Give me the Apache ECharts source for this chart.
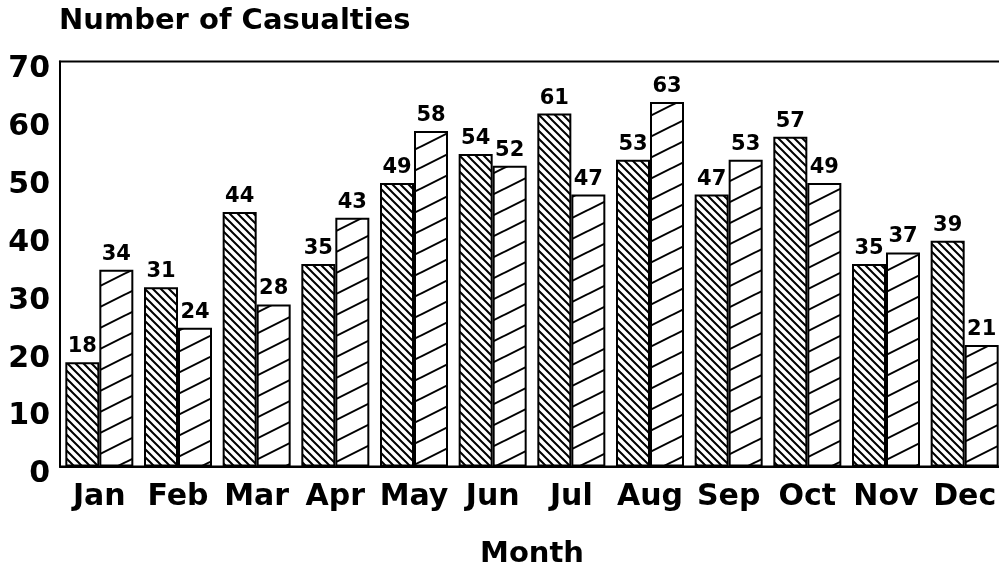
<!DOCTYPE html>
<html>
<head>
<meta charset="utf-8">
<script src="https://cdn.jsdelivr.net/npm/echarts@6/dist/echarts.min.js"></script>
<style>
  html, body { margin: 0; padding: 0; background: #fff; }
  #main { width: 999px; height: 572px; }
</style>
</head>
<body>
<div id="main"></div>
<script>
// data
var months = ['Jan', 'Feb', 'Mar', 'Apr', 'May', 'Jun', 'Jul', 'Aug', 'Sep', 'Oct', 'Nov', 'Dec'];
var seriesA = [18, 31, 44, 35, 49, 54, 61, 53, 47, 57, 35, 39];
var seriesB = [34, 24, 28, 43, 58, 52, 47, 63, 53, 49, 37, 21];
var yTicks = [0, 10, 20, 30, 40, 50, 60, 70];

// hatch fills
function hatchBack() {
  var s = 8;
  var c = document.createElement('canvas');
  c.width = s; c.height = s;
  var g = c.getContext('2d');
  g.fillStyle = '#fff'; g.fillRect(0, 0, s, s);
  g.strokeStyle = '#000'; g.lineWidth = 2;
  g.beginPath();
  g.moveTo(-s, 0); g.lineTo(s, 2 * s);
  g.moveTo(-1, -1); g.lineTo(s + 1, s + 1);
  g.moveTo(0, -s); g.lineTo(2 * s, s);
  g.stroke();
  return c;
}
function hatchFwd() {
  var w = 42, h = 21;
  var c = document.createElement('canvas');
  c.width = w; c.height = h;
  var g = c.getContext('2d');
  g.fillStyle = '#fff'; g.fillRect(0, 0, w, h);
  g.strokeStyle = '#000'; g.lineWidth = 2;
  g.beginPath();
  g.moveTo(-w, 2 * h); g.lineTo(2 * w, -h);
  g.moveTo(-w, h); g.lineTo(w, -h);
  g.moveTo(0, 2 * h); g.lineTo(2 * w, 0);
  g.stroke();
  return c;
}

var font = '"DejaVu Sans", "Liberation Sans", Arial, sans-serif';
var chart = echarts.init(document.getElementById('main'));

var labelStyle = {
  show: true,
  position: 'top',
  distance: 5,
  color: '#000',
  fontFamily: font,
  fontWeight: 'bold',
  fontSize: 21
};

var option = {
  animation: false,
  backgroundColor: '#fff',
  title: {
    text: 'Number of Casualties',
    left: 59,
    top: 7,
    padding: 0,
    textStyle: { fontFamily: font, fontWeight: 'bold', fontSize: 29, color: '#000' }
  },
  grid: {
    left: 60,
    top: 61.5,
    width: 944,
    bottom: 105.5,
    outerBoundsMode: 'none',
    show: true,
    borderColor: '#000',
    borderWidth: 2,
    backgroundColor: 'transparent'
  },
  xAxis: {
    type: 'category',
    data: months,
    name: 'Month',
    nameLocation: 'middle',
    nameGap: 73,
    nameTextStyle: { fontFamily: font, fontWeight: 'bold', fontSize: 29, color: '#000', verticalAlign: 'top' },
    axisLine: { lineStyle: { color: '#000', width: 2 } },
    axisTick: { show: false },
    axisLabel: { interval: 0, fontFamily: font, fontWeight: 'bold', fontSize: 30, color: '#000', margin: 16 }
  },
  yAxis: {
    type: 'value',
    min: yTicks[0],
    max: yTicks[yTicks.length - 1],
    interval: 10,
    axisLine: { show: true, lineStyle: { color: '#000', width: 2 } },
    axisTick: { show: false },
    splitLine: { show: false },
    axisLabel: {
      fontFamily: font, fontWeight: 'bold', fontSize: 30, color: '#000', margin: 10,
      verticalAlign: 'top', lineHeight: 16
    }
  },
  series: [
    {
      type: 'bar',
      data: seriesA,
      barWidth: 34,
      barGap: '0%',
      itemStyle: { color: { image: hatchBack(), repeat: 'repeat' }, borderColor: '#000', borderWidth: 2 },
      label: labelStyle
    },
    {
      type: 'bar',
      data: seriesB,
      barWidth: 34,
      barGap: '0%',
      itemStyle: { color: { image: hatchFwd(), repeat: 'repeat' }, borderColor: '#000', borderWidth: 2 },
      label: labelStyle
    }
  ]
};

chart.setOption(option);
</script>
</body>
</html>
